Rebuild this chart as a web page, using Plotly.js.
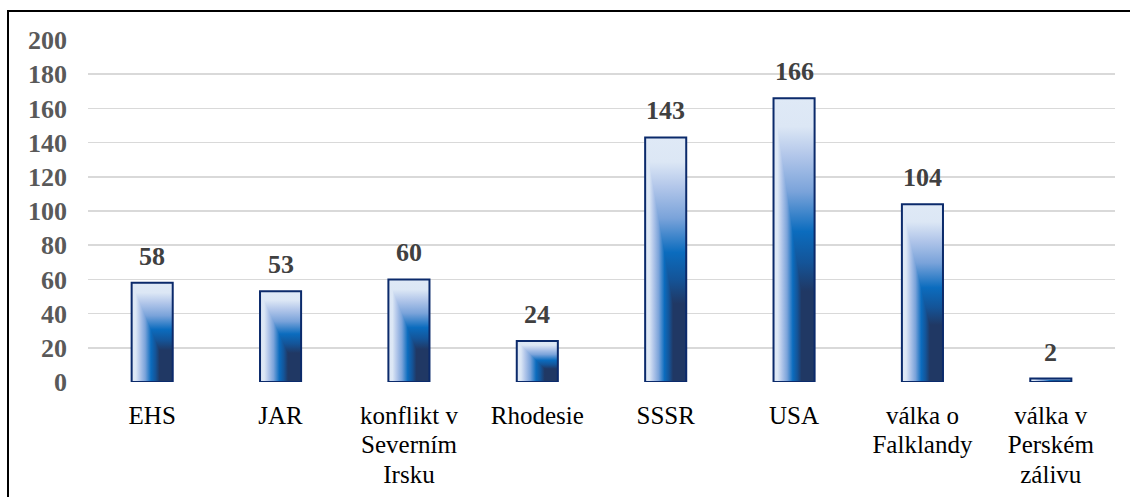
<!DOCTYPE html>
<html>
<head>
<meta charset="utf-8">
<script src="https://cdn.plot.ly/plotly-3.0.1.min.js"></script>
<style>
  html, body { margin: 0; padding: 0; background: #fff; }
  #wrap { position: relative; width: 1130px; height: 497px; overflow: hidden; }
  #chart { position: absolute; left: 0; top: 0; width: 1130px; height: 497px; }
  #frame { position: absolute; left: 7px; top: 10px; width: 1140px; height: 510px; border: 2px solid #000; box-sizing: border-box; pointer-events: none; }
</style>
</head>
<body>
<div id="wrap">
  <div id="chart"></div>
  <div id="frame"></div>
</div>
<script>
const categories = ["EHS", "JAR", "konflikt v<br>Severním<br>Irsku", "Rhodesie", "SSSR", "USA", "válka o<br>Falklandy", "válka v<br>Perském<br>zálivu"];
const values = [58, 53, 60, 24, 143, 166, 104, 2];
const yTicks = [0, 20, 40, 60, 80, 100, 120, 140, 160, 180, 200];

const serif = "Liberation Serif";

const gradStops = [
  [0, '#dfe9f6'], [0.1, '#dce7f5'], [0.2, '#b3c7ea'], [0.33, '#7aa3da'],
  [0.47, '#0b6cbe'], [0.58, '#145498'], [0.68, '#203864'], [1, '#203864']
];

const trace = {
  type: 'bar',
  x: categories,
  y: values,
  marker: { color: '#0a6bbd', line: { color: '#0b2a6b', width: 2 } },
  hoverinfo: 'none'
};

const annotations = categories.map((c, i) => ({
  x: c, y: values[i], xref: 'x', yref: 'y',
  text: '<b>' + values[i] + '</b>',
  showarrow: false, yanchor: 'bottom', yshift: 10,
  font: { family: serif, size: 26, color: '#404040' }
}));

const layout = {
  width: 1130, height: 497,
  margin: { l: 88, r: 15, t: 40, b: 115 },
  paper_bgcolor: 'rgba(0,0,0,0)', plot_bgcolor: '#fff',
  font: { family: serif },
  showlegend: false,
  bargap: 0.68,
  xaxis: {
    type: 'category',
    tickfont: { family: serif, size: 25, color: '#000' },
    showgrid: false, zeroline: false, showline: false, ticks: '',
    ticklabelstandoff: 16
  },
  yaxis: {
    range: [0, 200], tickvals: yTicks, ticktext: yTicks.map(v => '<b>' + v + '</b>'),
    tickfont: { family: serif, size: 26, color: '#595959' },
    showgrid: true, gridcolor: '#d9d9d9', gridwidth: 1.5,
    zeroline: false, showline: false, ticks: '',
    ticklabelstandoff: 20
  },
  annotations: annotations
};

function mkGrad(defs, id, x1, y1, x2, y2) {
  const svgNS = 'http://www.w3.org/2000/svg';
  const g = document.createElementNS(svgNS, 'linearGradient');
  g.setAttribute('id', id);
  g.setAttribute('gradientUnits', 'userSpaceOnUse');
  g.setAttribute('x1', x1); g.setAttribute('y1', y1);
  g.setAttribute('x2', x2); g.setAttribute('y2', y2);
  gradStops.forEach(s => {
    const st = document.createElementNS(svgNS, 'stop');
    st.setAttribute('offset', s[0]);
    st.setAttribute('stop-color', s[1]);
    g.appendChild(st);
  });
  defs.appendChild(g);
}

Plotly.newPlot('chart', [trace], layout, { displayModeBar: false, staticPlot: true }).then(() => {
  const svgNS = 'http://www.w3.org/2000/svg';
  const mainSvg = document.querySelector('#chart .main-svg');
  let defs = mainSvg.querySelector('defs');
  if (!defs) { defs = document.createElementNS(svgNS, 'defs'); mainSvg.insertBefore(defs, mainSvg.firstChild); }
  document.querySelectorAll('#chart .bars .point path').forEach((p, i) => {
    const b = p.getBBox();
    if (!b.width || !b.height) return;
    const x0 = b.x, y0 = b.y, x1 = b.x + b.width, y1 = b.y + b.height;
    mkGrad(defs, 'gv' + i, x0, y0, x0, y1);
    mkGrad(defs, 'gh' + i, x0, y0, x1, y0);
    const full = document.createElementNS(svgNS, 'polygon');
    full.setAttribute('points', `${x0},${y0} ${x1},${y0} ${x1},${y1} ${x0},${y1}`);
    full.setAttribute('fill', `url(#gv${i})`);
    const lo = document.createElementNS(svgNS, 'polygon');
    lo.setAttribute('points', `${x0},${y0} ${x0},${y1} ${x1},${y1}`);
    lo.setAttribute('fill', `url(#gh${i})`);
    const parent = p.parentNode;
    parent.insertBefore(full, p);
    parent.insertBefore(lo, p);
    p.style.fill = 'none';
    p.style.fillOpacity = 0;
  });
  document.querySelectorAll('#chart .xtick text tspan.line').forEach(t => {
    const dy = t.getAttribute('dy');
    if (dy && parseFloat(dy) !== 0) t.setAttribute('dy', (parseFloat(dy) / 1.3 * 1.17).toFixed(3) + 'em');
  });
});
</script>
</body>
</html>
